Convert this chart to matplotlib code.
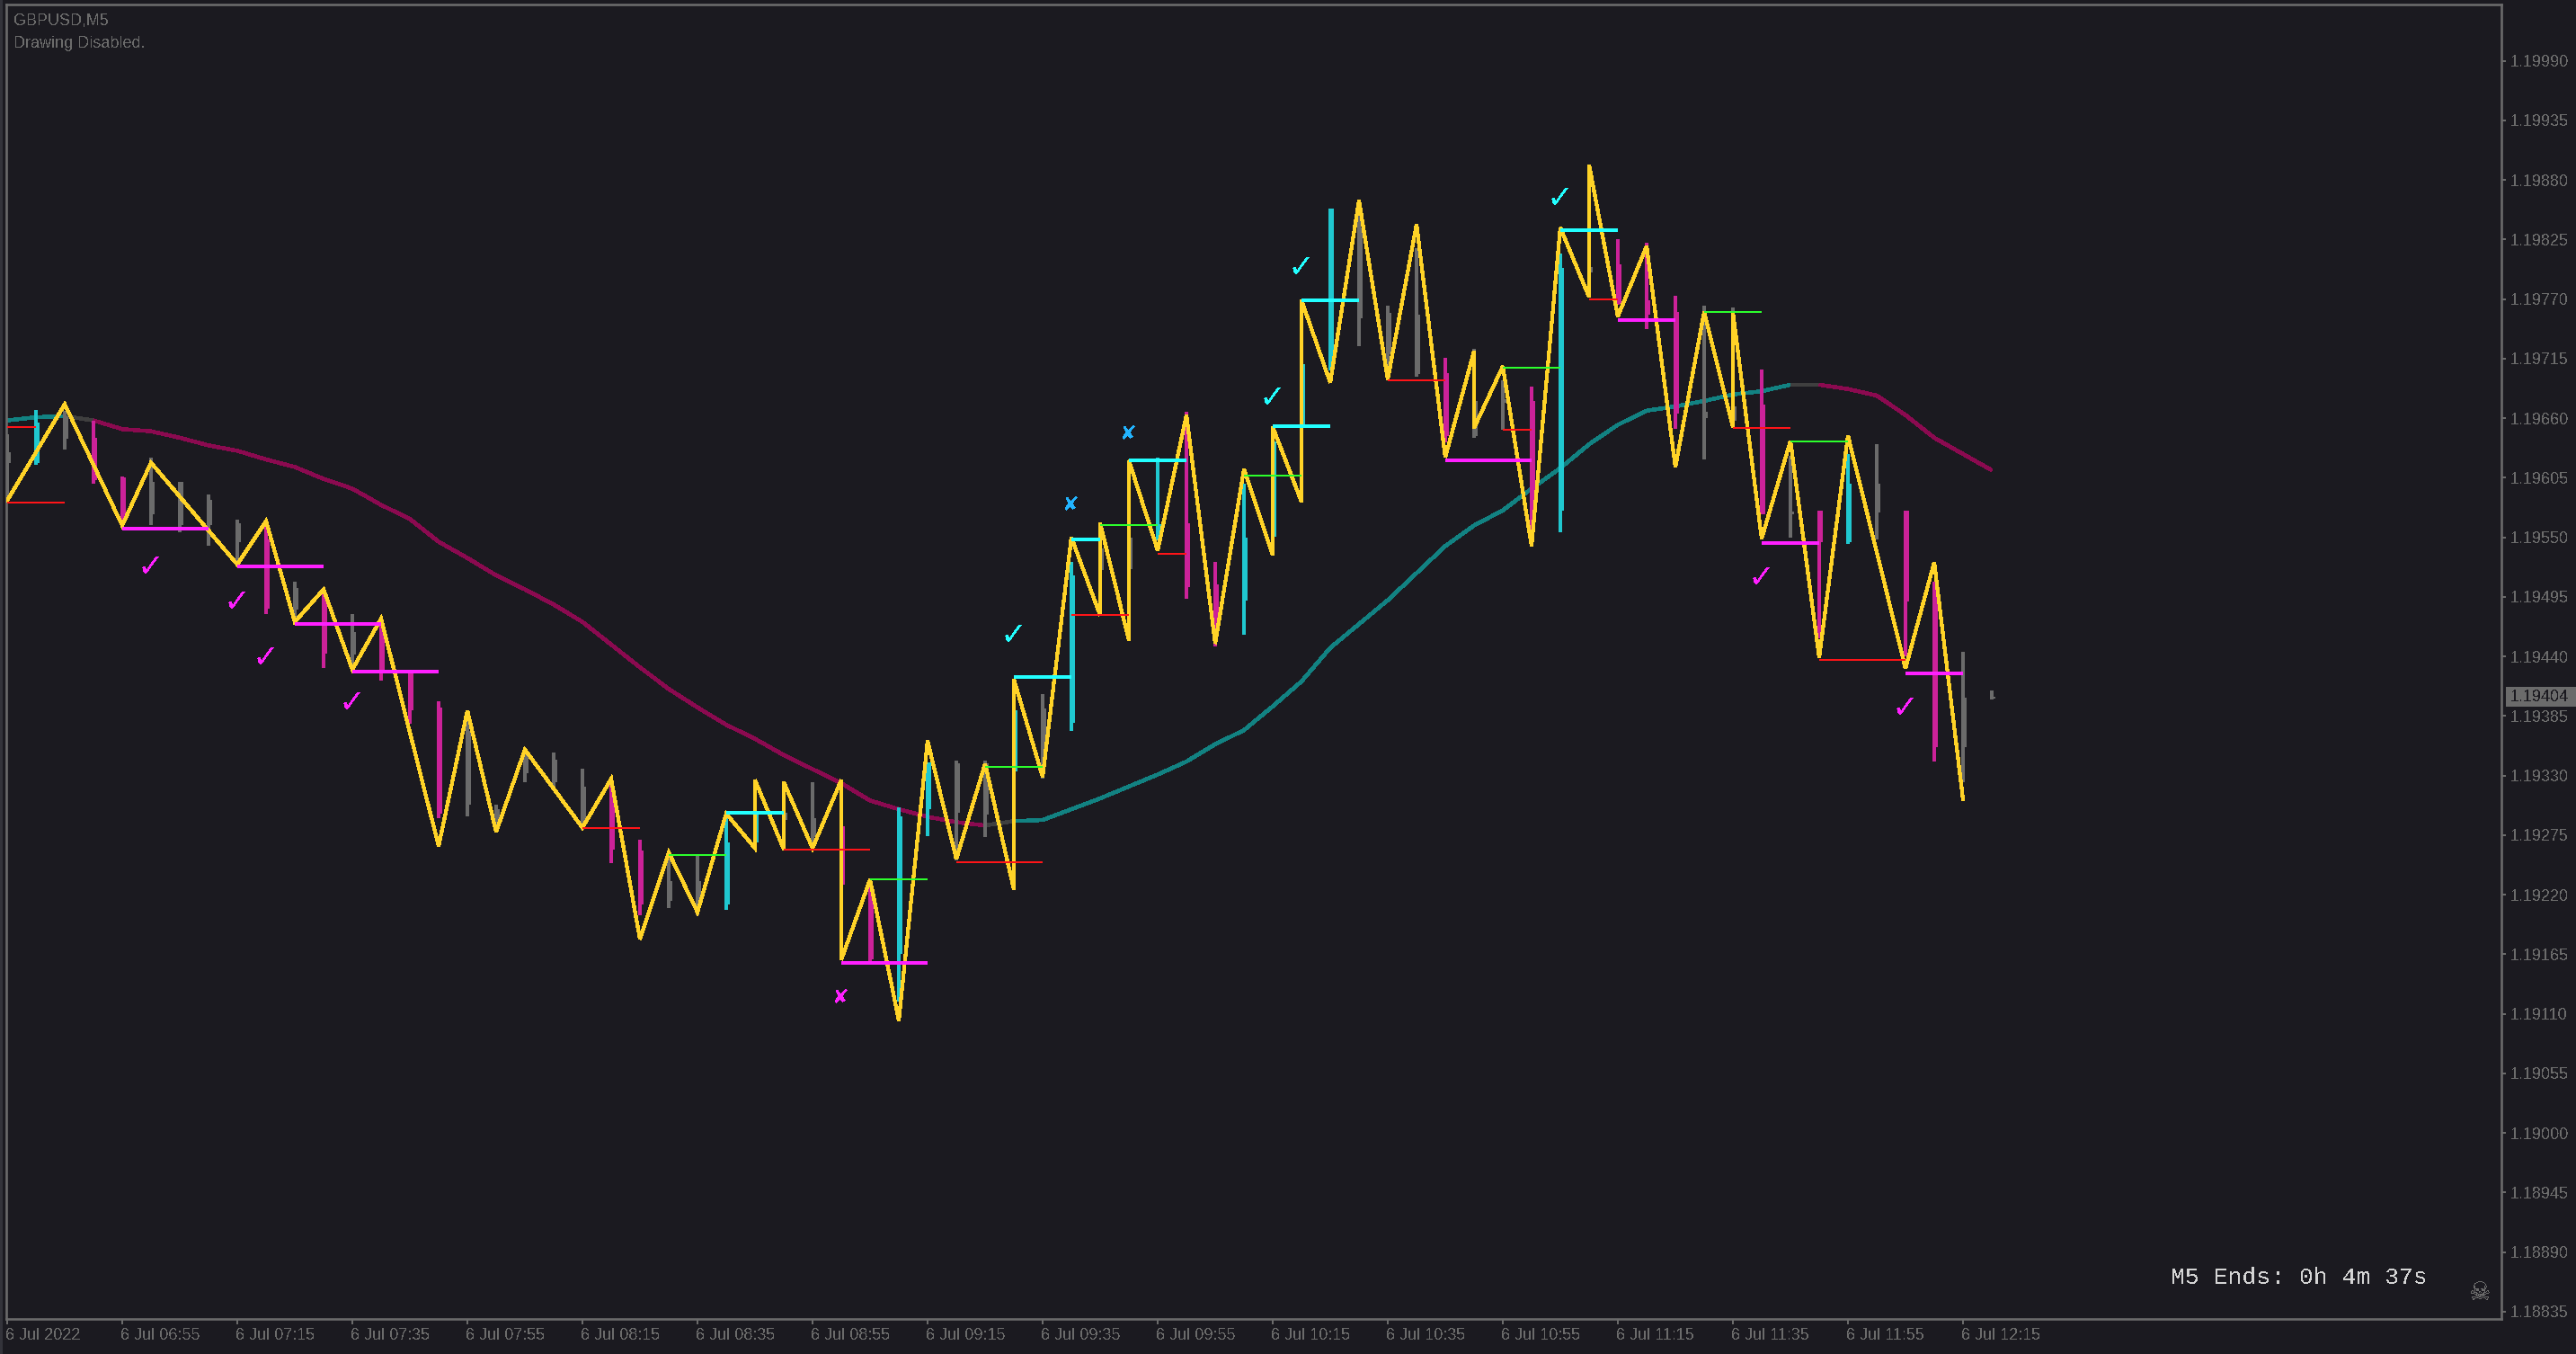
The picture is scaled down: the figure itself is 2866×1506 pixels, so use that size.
# GBPUSD M5 screenshot, candles + zigzag + levels + moving average
import matplotlib
matplotlib.use('Agg')
import matplotlib.pyplot as plt
from matplotlib.patches import Rectangle
from matplotlib.transforms import ScaledTranslation

# candle data, one value per bar
candle_kind = ['n','u','n','d','d','n','n','n','n','d',
               'n','d','n','d','d','d','n','n','n','n',
               'n','d','d','n','n','u','u','n','n','d',
               'd','u','u','n','n','u','n','u','n','n',
               'u','d','d','u','u','u','u','n','n','n',
               'd','n','n','d','u','n','d','d','d','n',
               'n','d','n','d','u','n','d','d','n','n']
candle_high = [1.19645,1.19668,1.19667,1.19658,1.19606,1.19624,1.19601,1.19590,1.19566,1.19566,
               1.19509,1.19500,1.19479,1.19473,1.19425,1.19399,1.19390,1.19303,1.19354,1.19351,
               1.19336,1.19326,1.19271,1.19258,1.19256,1.19291,1.19326,1.19299,1.19324,1.19284,
               1.19234,1.19301,1.19342,1.19344,1.19344,1.19392,1.19405,1.19527,1.19548,1.19551,
               1.19624,1.19666,1.19527,1.19600,1.19643,1.19711,1.19854,1.19862,1.19764,1.19817,
               1.19716,1.19724,1.19695,1.19689,1.19812,1.19839,1.19825,1.19822,1.19773,1.19764,
               1.19762,1.19705,1.19625,1.19575,1.19627,1.19636,1.19575,1.19509,1.19444,1.19409]
candle_low = [1.19581,1.19617,1.19631,1.19600,1.19562,1.19561,1.19555,1.19542,1.19525,1.19479,
              1.19472,1.19429,1.19428,1.19418,1.19378,1.19291,1.19292,1.19280,1.19324,1.19318,
              1.19280,1.19249,1.19201,1.19208,1.19201,1.19206,1.19268,1.19262,1.19264,1.19225,
              1.19158,1.19121,1.19274,1.19252,1.19273,1.19332,1.19327,1.19371,1.19520,1.19520,
              1.19547,1.19493,1.19449,1.19460,1.19548,1.19652,1.19704,1.19727,1.19707,1.19698,
              1.19638,1.19642,1.19649,1.19550,1.19555,1.19795,1.19765,1.19742,1.19650,1.19622,
              1.19658,1.19571,1.19550,1.19457,1.19544,1.19548,1.19440,1.19343,1.19324,1.19400]
body_top = [1.19629,1.19656,1.19662,1.19642,1.19605,1.19601,1.19601,1.19585,1.19563,1.19548,
            1.19503,1.19497,1.19463,1.19468,1.19424,1.19393,1.19371,1.19299,1.19349,1.19345,
            1.19320,1.19312,1.19261,1.19233,1.19233,1.19268,1.19295,1.19296,1.19291,1.19283,
            1.19219,1.19292,1.19342,1.19341,1.19341,1.19390,1.19392,1.19515,1.19540,1.19550,
            1.19562,1.19563,1.19507,1.19550,1.19639,1.19710,1.19854,1.19836,1.19757,1.19756,
            1.19702,1.19676,1.19678,1.19676,1.19799,1.19800,1.19802,1.19769,1.19758,1.19666,
            1.19671,1.19673,1.19574,1.19575,1.19600,1.19600,1.19575,1.19495,1.19402,1.19403]
body_bot = [1.19619,1.19619,1.19641,1.19603,1.19567,1.19571,1.19561,1.19561,1.19546,1.19484,
            1.19483,1.19443,1.19442,1.19424,1.19390,1.19295,1.19303,1.19287,1.19332,1.19324,
            1.19287,1.19262,1.19211,1.19214,1.19214,1.19211,1.19268,1.19289,1.19273,1.19229,
            1.19160,1.19165,1.19299,1.19296,1.19294,1.19334,1.19343,1.19379,1.19520,1.19521,
            1.19550,1.19504,1.19470,1.19492,1.19551,1.19653,1.19713,1.19752,1.19719,1.19701,
            1.19644,1.19644,1.19674,1.19576,1.19575,1.19795,1.19766,1.19756,1.19664,1.19660,
            1.19658,1.19571,1.19571,1.19546,1.19546,1.19573,1.19491,1.19356,1.19356,1.19401]

# moving average, one value per bar, with the trend of each segment after it
ma_values = [1.19658,1.19661,1.19662,1.19658,1.19650,1.19648,1.19642,1.19635,1.19630,1.19622,
             1.19615,1.19604,1.19595,1.19580,1.19567,1.19546,1.19531,1.19515,1.19502,1.19488,
             1.19472,1.19451,1.19430,1.19410,1.19393,1.19377,1.19364,1.19349,1.19336,1.19323,
             1.19307,1.19299,1.19292,1.19287,1.19284,1.19288,1.19289,1.19299,1.19309,1.19320,
             1.19331,1.19343,1.19359,1.19372,1.19394,1.19417,1.19448,1.19470,1.19492,1.19517,
             1.19542,1.19561,1.19575,1.19595,1.19614,1.19636,1.19654,1.19667,1.19671,1.19676,
             1.19682,1.19685,1.19691,1.19691,1.19687,1.19681,1.19663,1.19642,1.19627,1.19612]
ma_trend = ['u']*2 + ['n'] + ['d']*31 + ['n'] + ['u']*27 + ['n'] + ['d']*6

# zigzag vertices, a bar can appear twice when the leg is vertical
zig_bar = [0,2,4,5,8,9,10,11,12,13,15,16,17,18,20,21,22,23,24,25,26,26,27,27,28,29,29,30,31,32,
           33,34,35,35,36,37,38,38,39,39,40,41,42,43,44,44,45,45,46,47,48,49,50,51,51,52,53,54,
           55,55,56,57,58,59,60,60,61,62,63,64,66,67,68]
zig_price = [1.19584,1.19673,1.19561,1.19619,1.19525,1.19565,1.19472,1.19502,1.19428,1.19475,
             1.19265,1.19390,1.19278,1.19354,1.19282,1.19327,1.19179,1.19259,1.19204,1.19295,
             1.19263,1.19326,1.19262,1.19324,1.19263,1.19326,1.19160,1.19234,1.19104,1.19362,
             1.19253,1.19341,1.19225,1.19419,1.19329,1.19550,1.19478,1.19563,1.19455,1.19621,
             1.19538,1.19663,1.19452,1.19613,1.19534,1.19652,1.19583,1.19769,1.19693,1.19861,
             1.19696,1.19839,1.19624,1.19722,1.19651,1.19708,1.19542,1.19836,1.19772,1.19894,
             1.19754,1.19819,1.19615,1.19758,1.19652,1.19758,1.19549,1.19639,1.19439,1.19644,
             1.19429,1.19527,1.19308]

# levels: start bar, end bar, price
red_levels = [(0,1,1.19652),(0,2,1.19582),(20,22,1.19282),(27,30,1.19262),(33,36,1.19250),
              (37,39,1.19478),(40,41,1.19535),(48,50,1.19695),(52,53,1.19649),(55,56,1.19770),
              (60,62,1.19651),(63,66,1.19437)]
green_levels = [(23,25,1.19257),(30,32,1.19234),(34,36,1.19338),(38,40,1.19561),(43,45,1.19607),
                (52,54,1.19707),(59,61,1.19758),(62,64,1.19639)]
magenta_levels = [(4,7,1.19558),(8,11,1.19523),(10,13,1.19470),(12,15,1.19426),(29,32,1.19157),
                  (50,53,1.19621),(56,58,1.19751),(61,63,1.19545),(66,68,1.19424)]
cyan_levels = [(25,27,1.19296),(35,37,1.19421),(37,38,1.19548),(39,41,1.19621),(44,46,1.19653),
               (45,47,1.19769),(54,56,1.19834)]

# signal glyphs: bar, price
check_magenta = [(5,1.19522),(8,1.19490),(9,1.19438),(12,1.19397),(61,1.19512),(66,1.19392)]
check_cyan = [(35,1.19459),(44,1.19678),(45,1.19799),(54,1.19863)]
cross_magenta = [(29,1.19125)]
cross_blue = [(37,1.19580),(39,1.19645)]

price_ticks = [1.18835,1.18890,1.18945,1.19000,1.19055,1.19110,1.19165,1.19220,1.19275,1.19330,
               1.19385,1.19440,1.19495,1.19550,1.19605,1.19660,1.19715,1.19770,1.19825,1.19880,
               1.19935,1.19990]
time_bars = [0,4,8,12,16,20,24,28,32,36,40,44,48,52,56,60,64,68]
time_labels = ['6 Jul 2022','6 Jul 06:55','6 Jul 07:15','6 Jul 07:35','6 Jul 07:55','6 Jul 08:15',
               '6 Jul 08:35','6 Jul 08:55','6 Jul 09:15','6 Jul 09:35','6 Jul 09:55','6 Jul 10:15',
               '6 Jul 10:35','6 Jul 10:55','6 Jul 11:15','6 Jul 11:35','6 Jul 11:55','6 Jul 12:15']
last_price = 1.19404

BG = '#1b1a20'
GRIS = '#6b6b6b'
AMARILLO = '#ffd327'
ROJO = '#ff1418'
VERDE = '#2cff2c'
MAGENTA = '#ff1fff'
CIAN = '#22ffff'
candle_color = {'n': '#6b6b6b', 'u': '#20c8d0', 'd': '#cc2299'}
ma_color = {'n': '#3f3f3f', 'u': '#128282', 'd': '#8b0a50'}

W, H = 2866, 1506
px = 72 / 100  # one pixel in points

plt.rcParams['text.antialiased'] = False
plt.rcParams['font.family'] = ['Liberation Sans', 'DejaVu Sans']

fig = plt.figure(figsize=(W / 100, H / 100), dpi=100, facecolor=BG)
ax = fig.add_axes([7 / W, 1 - 1467 / H, (2783 - 7) / W, (1467 - 5) / H], facecolor=BG)

# faja oscura del borde izquierdo
fig.patches.append(Rectangle((0, 0), 3 / W, 1, transform=fig.transFigure, color='#33333a', lw=0))

# media movil
for i, t in enumerate(ma_trend):
    ax.plot([i, i + 1], ma_values[i:i + 2], color=ma_color[t], lw=3.5 * px,
            antialiased=False, solid_capstyle='butt', zorder=1)

# velas: mecha y cuerpo corrido 2 px a la derecha
for i, k in enumerate(candle_kind):
    ax.bar(i, candle_high[i] - candle_low[i], bottom=candle_low[i], width=4 / 32,
           color=candle_color[k], antialiased=False, lw=0, zorder=2)
    ax.bar(i + 2 / 32, body_top[i] - body_bot[i], bottom=body_bot[i], width=4 / 32,
           color=candle_color[k], antialiased=False, lw=0, zorder=2)

# zigzag
ax.plot(zig_bar, zig_price, color=AMARILLO, lw=3.2 * px, antialiased=False,
        solid_joinstyle='miter', zorder=3)

# niveles
for niveles, color, ancho in [(red_levels, ROJO, 2), (green_levels, VERDE, 2),
                              (magenta_levels, MAGENTA, 4), (cyan_levels, CIAN, 4)]:
    for a, b, p in niveles:
        ax.plot([a, b], [p, p], color=color, lw=ancho * px, antialiased=False,
                solid_capstyle='butt', zorder=4)

# marcas
for puntos, glifo, color, size in [(check_magenta, '\u2713', MAGENTA, 26), (check_cyan, '\u2713', CIAN, 26),
                                   (cross_magenta, '\u2718', MAGENTA, 16), (cross_blue, '\u2718', '#22b4ff', 16)]:
    for b, p in puntos:
        ax.text(b, p, glifo, color=color, fontsize=size, ha='center', va='center',
                family='DejaVu Sans', zorder=5)

ax.set_xlim(-1 / 32, (2783 - 8) / 32)
ax.set_ylim(1.188283, 1.200421)

for s in ax.spines.values():
    s.set_color(GRIS)
    s.set_linewidth(2.6 * px)

ax.yaxis.tick_right()
ax.set_yticks(price_ticks)
ax.set_yticklabels(['%.5f' % p for p in price_ticks])
ax.set_xticks(time_bars)
ax.set_xticklabels(time_labels, ha='left')
ax.tick_params(axis='y', colors=GRIS, length=5 * px, width=2 * px, pad=5 * px, labelsize=13)
ax.tick_params(axis='x', colors=GRIS, length=6 * px, width=2 * px, pad=3, labelsize=13)
offset = ScaledTranslation(-2 / 100, 0, fig.dpi_scale_trans)
for lab in ax.get_xticklabels():
    lab.set_transform(lab.get_transform() + offset)

# etiqueta de precio actual
fig.patches.append(Rectangle((2788 / W, 1 - 786 / H), 78 / W, 22 / H, transform=fig.transFigure,
                             color=GRIS, lw=0))
fig.text(2793 / W, 1 - 775 / H, '%.5f' % last_price, color=BG, fontsize=13, va='center')

fig.text(15 / W, 1 - 28 / H, 'GBPUSD,M5', color=GRIS, fontsize=13, va='baseline')
fig.text(15 / W, 1 - 52.7 / H, 'Drawing Disabled.', color=GRIS, fontsize=13, va='baseline')
fig.text(2415 / W, 1 - 1428 / H, 'M5 Ends: 0h 4m 37s', color='#d4d4d4', fontsize=19,
         family='Liberation Mono', va='baseline')
fig.text(2760 / W, 1 - 1438 / H, '\u2620', color=GRIS, fontsize=20, family='DejaVu Sans',
         ha='center', va='center')

fig.savefig('out.png', dpi=100, facecolor=BG)
